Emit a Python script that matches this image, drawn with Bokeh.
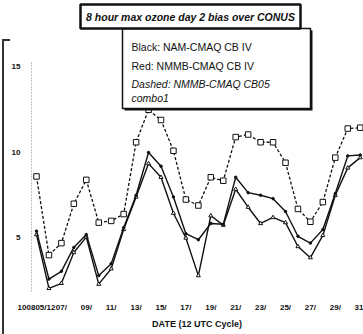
from bokeh.plotting import figure
from bokeh.models import ColumnDataSource, FixedTicker, BoxAnnotation, Label, Range1d
from bokeh.embed import file_html
from bokeh.resources import INLINE

# ---- data (August 2010, 12 UTC cycles) ----
days = list(range(5, 32))
nam_cb4 = [5.4, 2.6, 3.05, 4.45, 5.2, 2.8, 3.5, 5.6, 7.5, 10.0, 9.2, 7.4, 5.25, 4.9, 5.85,
           5.8, 8.55, 7.65, 7.5, 7.3, 6.55, 5.1, 4.7, 5.5, 7.6, 9.8, 9.85]
nmmb_cb4 = [5.2, 2.05, 2.35, 4.15, 5.05, 2.3, 3.2, 5.5, 7.4, 9.35, 8.55, 6.45, 5.0, 2.8, 6.3,
            5.75, 7.85, 6.8, 5.85, 6.2, 5.9, 4.5, 3.85, 5.15, 7.5, 9.1, 9.7]
nmmb_cb05 = [8.6, 4.0, 4.7, 7.0, 8.4, 5.9, 6.0, 6.4, 10.6, 12.5, 11.9, 10.1, 7.25, 6.9, 8.55,
             8.35, 10.9, 11.05, 10.6, 10.6, 9.4, 6.7, 5.95, 7.1, 9.7, 11.4, 11.45]
tick_days = list(range(5, 32, 2))
tick_labels = ["100805/12", "07/", "09/", "11/", "13/", "15/", "17/", "19/", "21/", "23/",
               "25/", "27/", "29/", "31"]
y_ticks = [5, 10, 15]
title_text = "8 hour max ozone day 2 bias over CONUS"
legend_lines = ["Black: NAM-CMAQ CB IV", "Red: NMMB-CMAQ CB IV", "Dashed: NMMB-CMAQ CB05", "combo1"]
x_title = "DATE (12 UTC Cycle)"

# ---- layout ----
FL, FR, FT, FB = 30, 363, 0, 295
x0, x1 = 4.518, 31.265
y0, y1 = 1.637, 18.889


def X(px):
    return x0 + (px - FL) / (FR - FL) * (x1 - x0)


def Y(py):
    return y1 - (py - FT) / (FB - FT) * (y1 - y0)


FONT = "Liberation Sans"

p = figure(frame_width=FR - FL, frame_height=FB - FT, output_backend="svg", toolbar_location=None,
           x_range=Range1d(x0, x1), y_range=Range1d(y0, y1),
           min_border_left=FL, min_border_right=0, min_border_top=0, min_border_bottom=334 - FB)
p.outline_line_color = None
p.grid.visible = False
p.background_fill_color = "white"
p.border_fill_color = None
# chart-area border on the left (CSS background behind the transparent canvas border)
p.styles = {
    "background-color": "white",
    "background-image": "linear-gradient(#333, #333), linear-gradient(#333, #333)",
    "background-repeat": "no-repeat, no-repeat",
    "background-size": "2px 294px, 8px 2px",
    "background-position": "2px 40px, 2px 39px",
}

# x axis
p.xaxis.ticker = FixedTicker(ticks=tick_days, minor_ticks=[])
p.xaxis.major_label_overrides = {d: s for d, s in zip(tick_days, tick_labels)}
p.xaxis.axis_line_color = None
p.xaxis.major_tick_line_color = None
p.xaxis.minor_tick_line_color = None
p.xaxis.major_label_standoff = 1
p.xaxis.major_label_text_font = FONT
p.xaxis.major_label_text_font_style = "bold"
p.xaxis.major_label_text_font_size = "8px"
p.xaxis.major_label_text_color = "#111"
p.xaxis.axis_label = x_title
p.xaxis.axis_label_text_font = FONT
p.xaxis.axis_label_text_font_style = "bold"
p.xaxis.axis_label_text_font_size = "9px"
p.xaxis.axis_label_standoff = 4
p.xaxis.axis_label_text_color = "#111"

# y axis
p.yaxis.ticker = FixedTicker(ticks=y_ticks, minor_ticks=[])
p.yaxis.axis_line_color = None
p.yaxis.major_tick_line_color = None
p.yaxis.minor_tick_line_color = None
p.yaxis.major_label_standoff = 4
p.yaxis.major_label_text_font = FONT
p.yaxis.major_label_text_font_style = "bold"
p.yaxis.major_label_text_font_size = "8px"
p.yaxis.major_label_text_color = "#111"

# dotted y axis line
p.segment(x0=[X(31)], y0=[Y(62)], x1=[X(31)], y1=[Y(292)], line_color="#888",
          line_width=1, line_dash="1 2")

src = ColumnDataSource(dict(day=days, nam=nam_cb4, nmmb=nmmb_cb4, cb05=nmmb_cb05))

p.line("day", "cb05", source=src, line_color="#111", line_width=1.3, line_dash="3 2")
p.scatter("day", "cb05", source=src, marker="square", size=5.5, fill_color="white",
          line_color="#111", line_width=1)

p.line("day", "nmmb", source=src, line_color="#111", line_width=1.4)
p.scatter("day", "nmmb", source=src, marker="triangle", size=4, fill_color="white",
          line_color="#111", line_width=1)

p.line("day", "nam", source=src, line_color="#111", line_width=1.4)
p.scatter("day", "nam", source=src, marker="circle", size=2.5, fill_color="#111",
          line_color="#111")

# legend box (with a slight drop shadow on the right/bottom)
p.add_layout(BoxAnnotation(left=X(124), right=X(312), top=Y(30), bottom=Y(110),
                           fill_color="#111", fill_alpha=1, line_color=None))
p.add_layout(BoxAnnotation(left=X(122), right=X(310), top=Y(28), bottom=Y(108),
                           fill_color="white", fill_alpha=1, line_color="#111", line_width=1.5,
                           line_alpha=1))
ys = [46, 65, 83, 97]
for txt, yy in zip(legend_lines, ys):
    p.add_layout(Label(x=X(131), y=Y(yy), text=txt, text_align="left", text_baseline="middle",
                       text_font=FONT, text_font_size="10.5px", text_color="#111",
                       text_font_style="italic" if yy >= 83 else "normal"))

# title box
p.add_layout(BoxAnnotation(left=X(80), right=X(300), top=Y(4), bottom=Y(28),
                           fill_color="white", fill_alpha=1, line_color="#111", line_width=2.5,
                           line_alpha=1))
p.add_layout(Label(x=X(190), y=Y(16), text=title_text, text_align="center", text_baseline="middle",
                   text_font=FONT, text_font_size="10.5px", text_font_style="bold italic",
                   text_color="#111"))

open("out.html", "w").write(file_html(p, INLINE))
